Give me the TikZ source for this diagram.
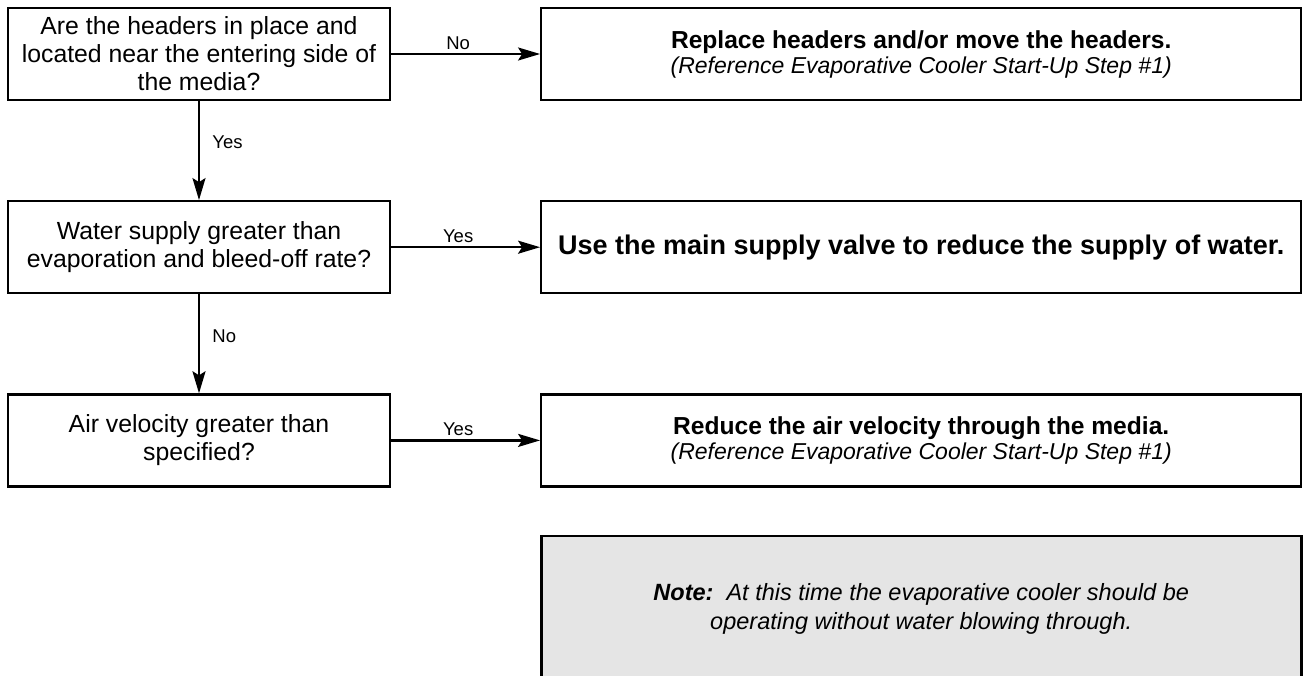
\documentclass[tikz,border=0pt]{standalone}
\usepackage{fontspec}
\setmainfont{Liberation Sans}
\usetikzlibrary{arrows.meta,positioning}
\definecolor{notegray}{HTML}{E5E5E5}

\begin{document}
\begin{tikzpicture}[
    x=1pt, y=-1pt,
    node distance=99pt and 149pt,
    qbox/.style={rectangle, draw=black, line width=2.2pt, minimum width=382pt,
                 minimum height=92pt, align=center, inner sep=0pt,
                 font=\fontsize{24.8}{28}\selectfont},
    abox/.style={rectangle, draw=black, line width=2.2pt, minimum width=760pt,
                 minimum height=92pt, align=center, inner sep=0pt,
                 font=\fontsize{24.6}{25}\selectfont},
    notebox/.style={rectangle, draw=black, line width=2.6pt, fill=notegray,
                    minimum width=760pt, minimum height=146pt, align=center,
                    inner sep=0pt, font=\fontsize{23.5}{29}\selectfont},
    arr/.style={-{Stealth[length=22pt, width=13pt, inset=4pt]}, line width=2.2pt},
    lbl/.style={font=\fontsize{18.5}{20}\selectfont}
]
\clip (0,0) rectangle (1304,675);

% questions on the left
\node[qbox] (q1) at (199,54) {Are the headers in place and\\located near the entering side of\\the media?};
\node[qbox, below=of q1] (q2) {Water supply greater than\\evaporation and bleed-off rate?};
\node[qbox, below=of q2] (q3) {Air velocity greater than\\specified?};

% actions on the right
\node[abox, right=of q1] (a1) {\textbf{Replace headers and/or move the headers.}\\
    {\fontsize{23}{25}\selectfont\itshape (Reference Evaporative Cooler Start-Up Step \#1)}};
\node[abox, right=of q2, font=\fontsize{27}{28}\selectfont] (a2) {\textbf{Use the main supply valve to reduce the supply of water.}};
\node[abox, right=of q3] (a3) {\textbf{Reduce the air velocity through the media.}\\
    {\fontsize{23}{25}\selectfont\itshape (Reference Evaporative Cooler Start-Up Step \#1)}};

\node[notebox, below=47pt of a3] (note) {\textbf{\textit{Note:}}\ \ \textit{At this time the evaporative cooler should be}\\
    \textit{operating without water blowing through.}};

\draw[arr] (q1) -- node[lbl, above, pos=0.45] {No} (a1);
\draw[arr] (q2) -- node[lbl, above, pos=0.45] {Yes} (a2);
\draw[arr] (q3) -- node[lbl, above, pos=0.45] {Yes} (a3);

\draw[arr] (q1) -- node[lbl, right=9pt, pos=0.42] {Yes} (q2);
\draw[arr] (q2) -- node[lbl, right=9pt, pos=0.42] {No} (q3);
\end{tikzpicture}
\end{document}
